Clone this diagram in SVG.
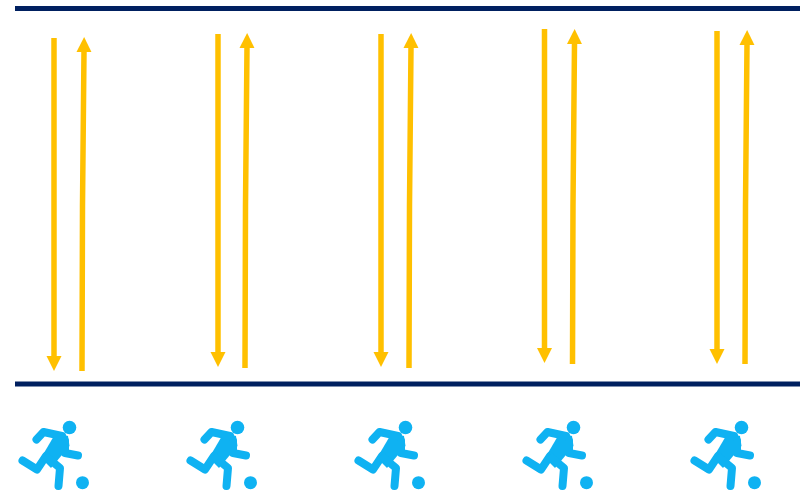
<svg xmlns="http://www.w3.org/2000/svg" width="802" height="492" viewBox="0 0 802 492">
<style>
.rail{stroke:#002060;stroke-width:5;fill:none}
.shaft{stroke:#FFC000;stroke-width:5.500;fill:none}
.head{fill:#FFC000}
.limb{stroke:#0FB2F2;stroke-width:8;fill:none;stroke-linecap:round;stroke-linejoin:round}
.solid{fill:#0FB2F2}
</style>
<defs>
<marker id="arrow" markerUnits="userSpaceOnUse" markerWidth="17" markerHeight="17" refX="1" refY="8" orient="auto">
<path class="head" d="M0 .5L15 8L0 15.500Z"/>
</marker>
<g id="player">
<circle class="solid" cx="69.500" cy="427.500" r="6.800"/>
<circle class="solid" cx="82.500" cy="482.700" r="6.500"/>
<path class="limb" d="M36.500 439.500L43.500 432L62 436"/>
<path class="solid" d="M56 432.500L68 436L69.500 446L51 468L41 458Z"/>
<path class="limb" d="M22.500 460.500L37 469.500L46 456"/>
<path class="limb" d="M48 458L60 468L58.500 486"/>
<path class="limb" d="M65 441L65 453L78 455.500"/>
</g>
</defs>
<g id="rails">
<path class="rail" d="M15 8.500H800"/>
<path class="rail" d="M15 384H800"/>
</g>
<g id="connectors">
<path class="shaft" d="M54 38V357" marker-end="url(#arrow)"/>
<path class="shaft" d="M82 371L82.500 205L84 51" marker-end="url(#arrow)"/>
<path class="shaft" d="M218 34V353" marker-end="url(#arrow)"/>
<path class="shaft" d="M245 368L245.500 205L247 47" marker-end="url(#arrow)"/>
<path class="shaft" d="M381 34V353" marker-end="url(#arrow)"/>
<path class="shaft" d="M409 368L409.500 205L411 47" marker-end="url(#arrow)"/>
<path class="shaft" d="M544.500 29V349" marker-end="url(#arrow)"/>
<path class="shaft" d="M572.500 364L573 205L574.500 43" marker-end="url(#arrow)"/>
<path class="shaft" d="M717 31V350" marker-end="url(#arrow)"/>
<path class="shaft" d="M745 364L745.500 205L747 44" marker-end="url(#arrow)"/>
</g>
<g id="player-1"><use href="#player"/></g>
<g id="player-2"><use href="#player" x="168"/></g>
<g id="player-3"><use href="#player" x="336"/></g>
<g id="player-4"><use href="#player" x="504"/></g>
<g id="player-5"><use href="#player" x="672"/></g>
</svg>
